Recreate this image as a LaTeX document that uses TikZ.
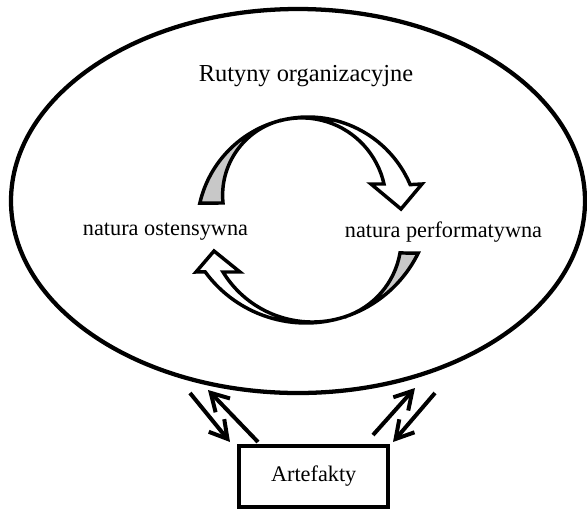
\documentclass[tikz,border=0pt]{standalone}
\usepackage{fontspec}
\setmainfont{Liberation Serif}
\usepackage{tikz}
\usetikzlibrary{arrows.meta,calc,shapes.geometric}
\definecolor{backside}{HTML}{C8C8C8}

\begin{document}
\begin{tikzpicture}[x=0.75pt,y=-0.75pt,line width=2.6pt,
  cycarrow/.style={draw=black,fill=white,line join=miter},
  linkarrow/.style={line width=3pt,-{Straight Barb[length=13pt,width=15pt]}},
  lbl/.style={font=\fontsize{16.7}{20}\selectfont}]
  \useasboundingbox (0,0) rectangle (587,512);
  \node[draw,ellipse,line width=3.2pt,inner sep=0pt,minimum width=430.5pt,minimum height=288pt] (rutyny) at (298,201) {};
  \node[font=\fontsize{18.3}{22}\selectfont] (tytul) at (306,76) {Rutyny organizacyjne};
  \node[lbl] (ost) at (165.5,232) {natura ostensywna};
  \node[lbl] (perf) at (443.5,232) {natura performatywna};
  \node[lbl,draw,line width=3pt,minimum width=111.4pt,minimum height=45.75pt] (artefakty) at (313.7,476.5) {Artefakty};
  % upper arrow
  \coordinate (c1) at (308,228);
  \coordinate (m1) at ($(c1)+(256:111)$);
  \draw[cycarrow,fill=backside] ($(c1)+(193:111)$) arc[start angle=193,end angle=256,radius=111]
    arc[start angle=256,end angle=174.2,radius=77.2] -- cycle;
  \draw[cycarrow] (m1) arc[start angle=256,end angle=337,radius=111] -- (422,184) -- (401,209)
    -- (371,184) -- (384,184) arc[start angle=347.5,end angle=256,radius=84.4] -- cycle;
  % lower arrow
  \coordinate (c2) at (306,198);
  \coordinate (m2) at ($(c2)+(72:125)$);
  \draw[cycarrow,fill=backside] ($(c2)+(26.2:125)$) arc[start angle=26.2,end angle=72,radius=125]
    arc[start angle=72,end angle=9.8,radius=81.9] -- cycle;
  \draw[cycarrow] (m2) arc[start angle=72,end angle=143.8,radius=125] -- (196,272) -- (214,251)
    -- (240,272) -- (223,272) arc[start angle=148.5,end angle=72,radius=104.7] -- cycle;
  % links
  \coordinate (la) at (190,393);
  \coordinate (lb) at (230,442);
  \coordinate (lc) at (258,442);
  \coordinate (ld) at (208,390);
  \coordinate (ra) at (373,435);
  \coordinate (rb) at (415,388);
  \coordinate (rc) at (435,393);
  \coordinate (rd) at (393,442);
  \draw[linkarrow] (la) -- (lb);
  \draw[linkarrow] (lc) -- (ld);
  \draw[linkarrow] (ra) -- (rb);
  \draw[linkarrow] (rc) -- (rd);
\end{tikzpicture}
\end{document}
